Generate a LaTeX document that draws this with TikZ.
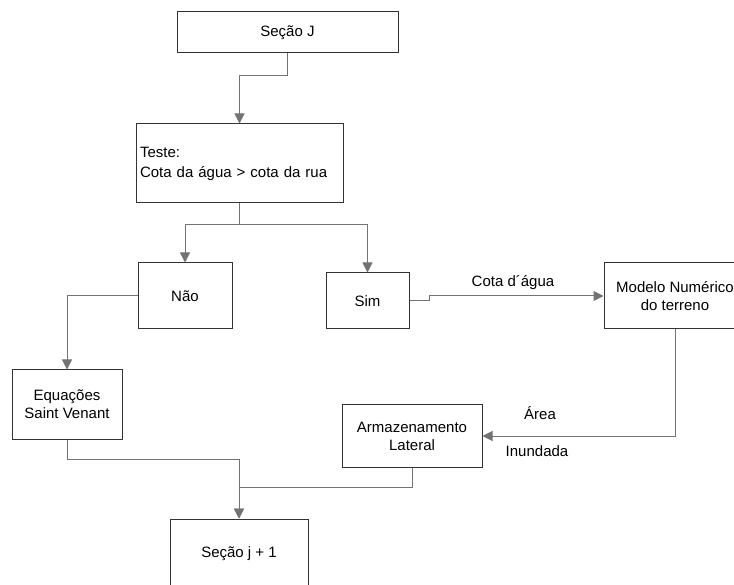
\documentclass[tikz,border=0pt]{standalone}
\usepackage{fontspec}
\setmainfont{Liberation Sans}
\usetikzlibrary{arrows.meta}

\begin{document}
\begin{tikzpicture}[x=1pt,y=-1pt,
    box/.style={draw=black!80,line width=1pt,inner sep=4pt,align=center,
        font=\fontsize{15}{18}\selectfont},
    link/.style={draw=black!55,line width=1pt},
    arr/.style={link,-{Triangle[length=10pt,width=10pt]}},
    lbl/.style={anchor=base,font=\fontsize{15}{18}\selectfont}]
    \useasboundingbox (0,0) rectangle (734,585);
    \clip (0,0) rectangle (734,585);
    % boxes
    \node[box,minimum width=221,minimum height=41] (secJ) at (287.5,32.5) {Seção J};
    \node[box,text width=199pt,align=left,minimum height=79,
        font=\fontsize{15}{20}\selectfont] (teste) at (239.5,163.5)
        {Teste:\\Cota da água > cota da rua};
    \node[box,minimum width=94,minimum height=66] (nao) at (185,296) {Não};
    \node[box,minimum width=83,minimum height=56] (sim) at (367.5,301) {Sim};
    \node[box,minimum width=142,minimum height=66] (modelo) at (675,296)
        {Modelo Numérico\\do terreno};
    \node[box,minimum width=110,minimum height=69] (equacoes) at (67,404.5)
        {Equações\\Saint Venant};
    \node[box,minimum width=140,minimum height=62] (armaz) at (412,436)
        {Armazenamento\\Lateral};
    \node[box,minimum width=138,minimum height=70] (secj1) at (239,554) {Seção j + 1};
    % connectors
    \draw[arr] (secJ.south) -- ++(0,22) -| (teste.north);
    \draw[link] (teste.south) -- ++(0,21) coordinate (tsplit);
    \draw[arr] (tsplit) -| (nao.north);
    \draw[arr] (tsplit) -| (sim.north);
    \draw[arr] (nao.west) -| (equacoes.north);
    \draw[arr] (sim.east) -- ++(20,0) |- (modelo.west);
    \draw[arr] (modelo.south) |- (armaz.east);
    \draw[arr] (equacoes.south) -- ++(0,20) -| (secj1.north);
    \draw[arr] (armaz.south) -- ++(0,20) -| (secj1.north);
    % labels
    \node[lbl] (cota) at (513,287) {Cota d´água};
    \node[lbl] (area) at (540,419) {Área};
    \node[lbl] (inund) at (537,456) {Inundada};
\end{tikzpicture}
\end{document}
